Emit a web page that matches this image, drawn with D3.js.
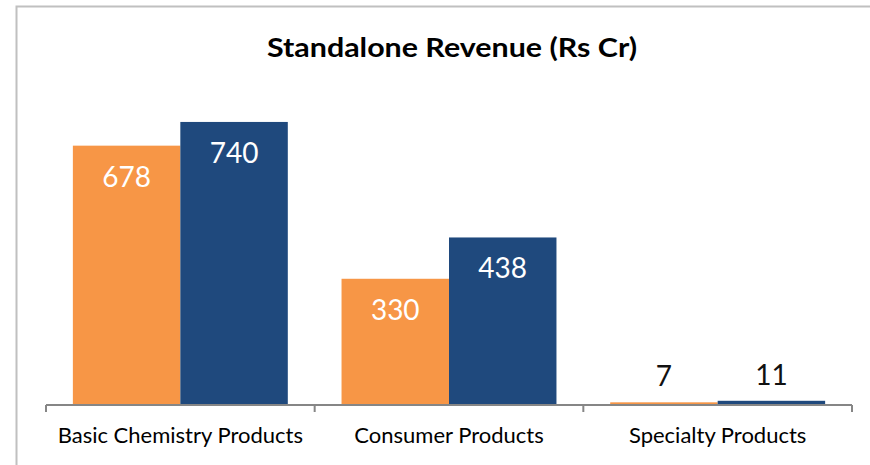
<!DOCTYPE html>
<html><head><meta charset="utf-8">
<script src="https://cdn.jsdelivr.net/npm/d3@7"></script>
<style>html,body{margin:0;padding:0;background:#fff;overflow:hidden}</style>
</head><body>
<svg id="c" width="870" height="465"></svg>
<script>
const categories = ["Basic Chemistry Products", "Consumer Products", "Specialty Products"];
const seriesNames = ["Prev", "Curr"];
const seriesA = [678, 330, 7];
const seriesB = [740, 438, 11];
const colors = ["#F79646", "#1F497D"];
const title = "Standalone Revenue (Rs Cr)";

const svg = d3.select("#c");
svg.append("rect").attr("x", 16.5).attr("y", 6.5).attr("width", 900).attr("height", 500)
  .attr("fill", "#fff").attr("stroke", "#C0C0C0").attr("stroke-width", 2);

const x0 = d3.scaleBand().domain(categories).range([46, 852]).paddingInner(0.2).paddingOuter(0.1);
const bandAll = d3.scaleBand().domain(categories).range([46, 852]);
const x1 = d3.scaleBand().domain(seriesNames).range([0, x0.bandwidth()]);
const y = d3.scaleLinear().domain([0, 800]).range([405, 99]);

const data = categories.map((c, i) => ({cat: c, vals: [seriesA[i], seriesB[i]]}));

svg.append("text").attr("x", 452).attr("y", 57).attr("text-anchor", "middle")
  .attr("font-family", "Lato, 'Liberation Sans Narrow', sans-serif").attr("font-weight", "bold")
  .attr("font-size", 27).attr("textLength", 370).attr("lengthAdjust", "spacingAndGlyphs")
  .attr("fill", "#000").text(title);

const g = svg.append("g");
data.forEach(d => {
  const cx = bandAll(d.cat) + (bandAll.bandwidth() - x0.bandwidth()) / 2;
  d.vals.forEach((v, j) => {
    const bx = cx + x1(seriesNames[j]);
    g.append("rect").attr("x", bx).attr("y", y(v)).attr("width", x1.bandwidth())
      .attr("height", y(0) - y(v)).attr("fill", colors[j]);
    const inside = (y(0) - y(v)) > 50;
    g.append("text").attr("x", bx + x1.bandwidth() / 2)
      .attr("y", inside ? y(v) + 41 : y(v) - 16)
      .attr("text-anchor", "middle")
      .attr("font-family", "Lato, sans-serif").attr("font-size", 28)
      .attr("fill", inside ? "#fff" : "#111").text(v);
  });
});

const ag = svg.append("g").attr("transform", "translate(0,405)");
ag.append("line").attr("x1", 46).attr("x2", 852).attr("y1", 0).attr("y2", 0)
  .attr("stroke", "#868686").attr("stroke-width", 2);
const edges = categories.map(c => bandAll(c)).concat([bandAll.range()[1]]);
ag.selectAll("line.tk").data(edges).enter().append("line").attr("class", "tk")
  .attr("x1", d => d).attr("x2", d => d).attr("y1", 0).attr("y2", 7)
  .attr("stroke", "#868686").attr("stroke-width", 2);
ag.selectAll("text.cl").data(categories).enter().append("text").attr("class", "cl")
  .attr("x", d => bandAll(d) + bandAll.bandwidth() / 2).attr("y", 38)
  .attr("text-anchor", "middle").attr("font-family", "Lato, sans-serif")
  .attr("font-size", 22).attr("fill", "#000").text(d => d);
</script>
</body></html>
